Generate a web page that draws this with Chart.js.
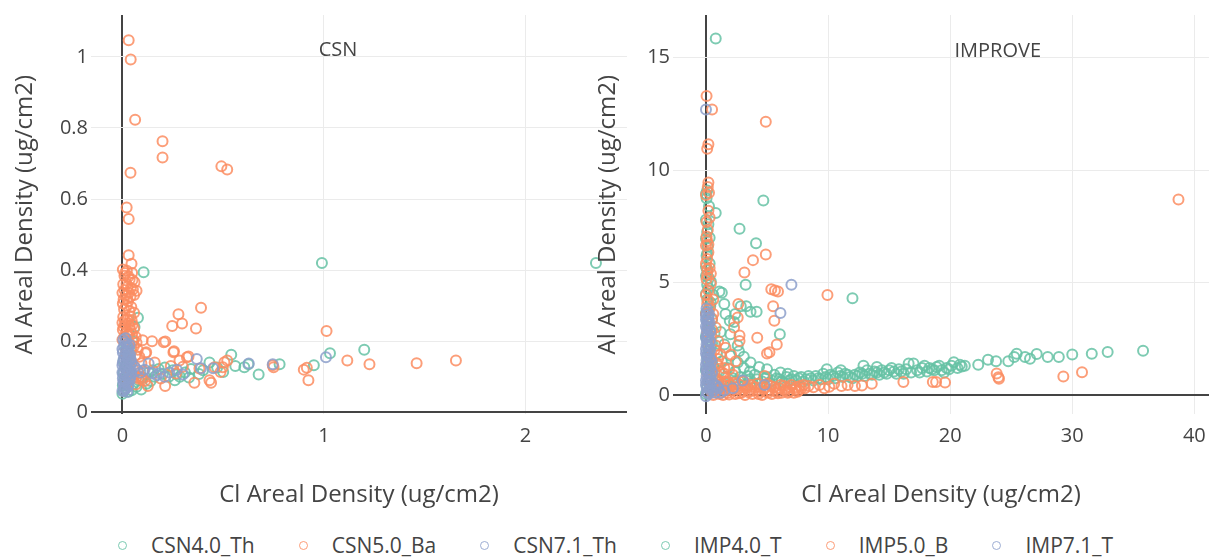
<!DOCTYPE html>
<html>
<head>
<meta charset="utf-8">
<script src="https://cdn.jsdelivr.net/npm/chart.js@4.4.1/dist/chart.umd.min.js"></script>
<style>
  html, body { margin: 0; padding: 0; background: #fff; }
  #wrap { position: relative; width: 1211px; height: 560px; overflow: hidden; font-family: "Open Sans", sans-serif; }
  #csnChart { position: absolute; left: 0; top: 0; }
  #impChart { position: absolute; left: 580px; top: 0; }
  #legend { position: absolute; left: 118px; top: 530px; height: 30px; display: flex; align-items: center; font-size: 21px; color: #444; }
  .item { display: flex; align-items: center; margin-right: 44px; }
  .dot { width: 9px; height: 9px; border-radius: 50%; border: 1.6px solid; box-sizing: border-box; margin-right: 24px; }
</style>
</head>
<body>
<div id="wrap">
  <canvas id="csnChart" width="640" height="520"></canvas>
  <canvas id="impChart" width="650" height="520"></canvas>
  <div id="legend"></div>
</div>
<script>
// [Cl, Al] areal density pairs (ug/cm2) per analysis version
var csn40Th = [
  [0.000,0.052],[0.006,0.060],[0.012,0.068],[0.002,0.076],[0.018,0.084],[0.008,0.092],[0.024,0.100],[0.004,0.110],
  [0.030,0.118],[0.014,0.128],[0.036,0.136],[0.006,0.146],[0.026,0.156],[0.042,0.170],[0.018,0.184],[0.050,0.200],
  [0.034,0.222],[0.060,0.240],[0.077,0.266],[0.105,0.394],[0.093,0.064],[0.070,0.072],[0.120,0.080],[0.140,0.088],
  [0.160,0.100],[0.180,0.122],[0.200,0.108],[0.230,0.100],[0.250,0.118],[0.285,0.100],[0.310,0.112],[0.340,0.122],
  [0.380,0.108],[0.432,0.140],[0.470,0.126],[0.500,0.113],[0.540,0.162],[0.560,0.130],[0.605,0.127],[0.625,0.135],
  [0.676,0.106],[0.780,0.135],[0.950,0.132],[1.030,0.166],[1.200,0.176],[0.990,0.420],[2.350,0.420],
  [0.046,0.062],[0.030,0.058],[0.056,0.080],[0.080,0.090],[0.100,0.098],[0.130,0.112],[0.150,0.118],[0.210,0.126],
  [0.270,0.106],[0.330,0.098],[0.400,0.118],[0.260,0.090]
];
var csn50Ba = [
  [0.031,1.047],[0.041,0.993],[0.063,0.823],[0.040,0.674],[0.021,0.576],[0.031,0.544],[0.031,0.442],[0.045,0.418],
  [0.002,0.402],[0.022,0.398],[0.048,0.392],[0.010,0.384],[0.036,0.374],[0.060,0.366],[0.004,0.360],[0.026,0.354],
  [0.052,0.346],[0.070,0.342],[0.000,0.336],[0.016,0.330],[0.040,0.326],[0.006,0.318],[0.028,0.312],[0.002,0.306],
  [0.020,0.300],[0.044,0.296],[0.034,0.286],[0.058,0.280],[0.004,0.268],[0.024,0.262],[0.046,0.258],[0.000,0.252],
  [0.014,0.246],[0.036,0.242],[0.058,0.236],[0.002,0.232],[0.022,0.226],[0.048,0.220],[0.010,0.214],[0.066,0.212],
  [0.000,0.204],[0.032,0.196],[0.056,0.186],[0.076,0.176],[0.018,0.166],[0.084,0.156],[0.042,0.146],[0.094,0.138],
  [0.062,0.126],[0.104,0.116],[0.050,0.104],[0.082,0.094],[0.030,0.086],[0.112,0.088],[0.066,0.078],[0.126,0.074],
  [0.012,0.392],[0.030,0.382],[0.050,0.372],[0.020,0.362],[0.042,0.350],[0.010,0.344],[0.032,0.336],[0.058,0.330],
  [0.024,0.320],[0.008,0.290],[0.040,0.270],[0.012,0.258],[0.030,0.250],[0.050,0.246],[0.006,0.240],[0.040,0.230],
  [0.028,0.216],[0.054,0.204],[0.070,0.196],[0.044,0.180],[0.064,0.160],[0.036,0.120],[0.080,0.110],[0.090,0.100],
  [0.100,0.092],[0.072,0.100],
  [0.100,0.203],[0.147,0.200],[0.213,0.199],[0.205,0.197],[0.118,0.169],[0.114,0.166],[0.256,0.172],[0.253,0.169],
  [0.320,0.155],[0.328,0.157],[0.199,0.763],[0.199,0.717],[0.491,0.692],[0.520,0.683],[0.390,0.294],[0.278,0.276],
  [0.296,0.250],[0.247,0.243],[0.365,0.236],[0.357,0.083],[0.432,0.090],[0.440,0.083],[0.212,0.074],[0.520,0.146],
  [0.498,0.127],[0.457,0.127],[0.487,0.113],[0.506,0.141],[0.283,0.146],[0.266,0.109],[0.382,0.123],[0.300,0.128],
  [0.160,0.140],[0.190,0.095],[0.240,0.130],[0.746,0.132],[0.750,0.127],[0.915,0.125],[0.900,0.120],[0.923,0.090],
  [1.013,0.229],[1.116,0.146],[1.226,0.135],[1.460,0.138],[1.655,0.146]
];
var csn71Th = [
  [0.000,0.060],[0.014,0.066],[0.028,0.072],[0.006,0.078],[0.020,0.084],[0.036,0.090],[0.002,0.096],[0.016,0.102],
  [0.032,0.108],[0.008,0.114],[0.024,0.120],[0.040,0.126],[0.000,0.132],[0.018,0.138],[0.034,0.144],[0.006,0.150],
  [0.022,0.156],[0.038,0.162],[0.002,0.168],[0.016,0.174],[0.030,0.180],[0.008,0.186],[0.022,0.192],[0.012,0.198],
  [0.004,0.204],[0.026,0.168],[0.044,0.110],[0.046,0.140],[0.010,0.070],[0.030,0.096],[0.012,0.130],[0.028,0.150],
  [0.010,0.062],[0.024,0.058],[0.004,0.084],[0.030,0.078],[0.012,0.090],[0.040,0.100],[0.020,0.106],[0.000,0.112],
  [0.034,0.118],[0.014,0.122],[0.002,0.140],[0.026,0.134],[0.040,0.150],[0.012,0.158],[0.030,0.164],[0.000,0.178],
  [0.024,0.184],[0.036,0.190],[0.016,0.208],
  [0.060,0.128],[0.075,0.118],[0.090,0.112],[0.110,0.120],[0.130,0.137],[0.150,0.110],[0.170,0.104],[0.184,0.110],
  [0.210,0.100],[0.233,0.112],[0.270,0.120],[0.300,0.106],[0.369,0.150],[0.390,0.124],[0.450,0.124],[0.627,0.137],
  [0.746,0.135],[1.010,0.155]
];
var imp40T = [
  [0.8,15.85],[4.7,8.65],[0.8,8.1],[2.75,7.4],[4.1,6.75],[3.25,4.9],[1.1,4.6],[1.3,4.55],[1.5,4.05],[3.3,3.95],
  [4.15,3.7],[1.95,3.3],[6.05,2.7],[12.0,4.3],[2.4,3.6],[2.85,3.95],[3.65,3.7],[2.3,3.25],[2.0,2.7],[1.5,2.25],
  [2.7,1.95],[2.0,1.75],[3.65,1.45],[4.35,1.25],[5.0,1.15],[6.1,1.0],[6.7,0.95],[9.9,1.15],[11.05,1.1],[12.9,1.3],
  [14.0,1.25],
  [0.1,9.1],[0.0,8.95],[0.05,8.75],[0.2,7.6],[0.1,7.25],[0.0,6.95],[0.15,6.6],[0.05,6.2],[0.3,5.85],[0.1,5.55],
  [0.0,5.3],[0.4,5.05],[0.2,4.75],[0.6,4.45],[0.1,4.25],[0.35,3.95],[0.0,3.65],[0.5,3.35],[0.2,3.05],[0.7,2.75],
  [0.1,2.45],[0.4,2.15],[0.9,1.85],[0.2,1.55],[0.6,1.25],[1.1,1.05],[0.3,0.85],[0.8,0.65],[1.4,0.5],[0.1,0.35],
  [0.5,0.2],[0.0,0.05],
  [0.25,8.4],[0.0,7.8],[0.3,7.0],[0.1,6.3],[0.0,5.7],[0.25,5.2],[0.1,4.9],[0.0,4.5],[0.4,4.1],[0.2,3.8],
  [0.1,3.3],[0.3,2.9],[0.0,2.6],[0.5,2.3],[0.2,2.0],[0.1,1.7],[0.4,1.4],[0.0,1.1],[0.7,0.95],[0.2,0.6],
  [0.6,0.4],[1.8,1.2],[2.4,1.05],[3.1,1.2],[1.3,1.5],[2.6,1.45],[3.1,1.7],[1.6,3.6],[1.2,2.8],[2.6,2.2],
  [3.6,1.05],
  [1.8,0.55],[2.2,0.75],[2.6,0.5],[3.0,0.65],[3.4,0.85],[3.8,0.55],[4.2,0.7],[4.6,0.6],[5.0,0.8],[5.4,0.65],
  [5.8,0.75],[6.2,0.6],[6.6,0.8],[7.0,0.7],[7.4,0.65],[7.8,0.8],[8.2,0.7],[8.6,0.75],[9.0,0.85],[9.4,0.7],
  [9.8,0.8],[10.2,0.9],[10.6,0.75],[11.0,0.85],[11.4,0.95],[11.8,0.8],[12.2,0.9],[12.6,1.0],[13.0,0.85],[13.4,0.95],
  [13.8,1.05],[14.2,0.9],[14.6,1.0],[15.0,1.1],[15.2,1.2],[15.6,0.95],[16.0,1.05],[16.4,1.15],[16.6,1.4],[17.0,1.4],
  [16.8,1.0],[17.3,1.1],[17.7,1.2],[18.1,1.05],[18.5,1.15],[18.9,1.25],[19.3,1.1],[19.7,1.2],[20.1,1.3],[20.3,1.46],
  [20.6,1.2],[20.95,1.27],
  [1.2,0.35],[1.6,0.8],[2.0,0.4],[2.4,0.6],[2.8,0.8],[3.2,0.45],[3.6,0.7],[4.0,0.9],[4.4,0.5],[4.8,0.75],
  [5.2,0.55],[5.6,0.9],[6.0,0.7],[6.4,0.55],[6.8,0.65],[7.2,0.85],[7.6,0.75],[8.0,0.6],[8.4,0.85],[8.8,0.65],
  [9.2,0.75],[9.6,0.95],[10.0,0.7],[10.4,0.85],[10.8,1.0],[11.2,0.8],[11.6,0.9],[12.0,0.75],[12.4,0.85],[12.8,0.95],
  [13.2,1.1],[13.6,0.9],[14.0,1.0],[14.4,1.1],[14.8,0.95],[15.4,1.05],[15.8,1.15],[16.2,0.95],[17.5,1.0],[17.9,1.3],
  [18.3,1.2],[18.7,1.1],[19.1,1.3],[19.5,1.0],[19.9,1.15],[20.8,1.35],[21.2,1.3],
  [22.3,1.35],[23.1,1.57],[23.76,1.5],[24.76,1.5],[25.25,1.69],[25.45,1.84],[26.13,1.69],[26.54,1.61],[27.09,1.83],
  [27.99,1.69],[28.9,1.69],[30.0,1.8],[31.6,1.84],[32.9,1.91],[35.8,1.97]
];
var imp50B = [
  [0.05,13.3],[0.5,12.7],[0.2,11.15],[0.1,10.95],[0.2,9.45],[0.15,9.25],[0.0,8.9],[0.2,8.2],[0.15,7.35],[0.05,7.05],
  [0.1,6.85],[0.0,6.65],[0.2,6.35],[0.1,6.05],[0.0,5.85],[0.3,5.65],[0.1,5.35],[0.05,5.15],[0.4,4.95],[0.2,4.65],
  [0.0,4.45],[0.6,4.25],[0.1,4.05],[0.3,3.85],[0.0,3.6],[0.5,3.4],[0.2,3.2],[0.8,3.0],[0.1,2.8],[0.4,2.6],
  [1.0,2.4],[0.2,2.2],[0.7,2.0],[1.2,1.8],[0.3,1.6],[0.9,1.4],[1.5,1.2],[0.1,1.0],[0.6,0.85],[1.8,0.6],
  [2.2,0.9],[1.0,1.6],[1.6,2.1],[0.5,2.9],
  [0.2,0.6],[0.4,0.8],[0.9,0.7],[1.3,1.0],[0.5,1.2],[1.0,1.3],[0.4,1.7],[0.8,2.2],[0.3,2.4],[0.6,3.6],
  [0.2,4.2],[0.4,5.4],[0.1,5.6],[0.2,6.7],[0.05,7.7],[0.3,7.9],[0.25,9.0],
  [38.7,8.7],[4.9,12.15],[4.9,6.25],[3.85,6.0],[3.15,5.45],[5.35,4.7],[5.65,4.65],[5.9,4.6],[9.95,4.45],[2.65,4.05],
  [5.5,3.95],[5.6,3.3],[2.6,3.45],[2.3,3.0],[2.75,2.65],[4.2,2.55],[5.8,2.25],[5.2,1.9],[5.0,1.85],[2.75,2.4],
  [2.05,1.8],[2.45,1.5],[1.9,1.15],[4.8,0.85],[1.5,0.95],[1.25,0.5],
  [0.5,0.1],[0.9,0.3],[1.3,0.15],[1.7,0.4],[2.1,0.2],[2.5,0.35],[2.9,0.1],[3.3,0.3],[3.7,0.45],[4.1,0.2],
  [4.5,0.35],[4.9,0.15],[5.3,0.4],[5.7,0.25],[6.1,0.45],[6.5,0.2],[6.9,0.35],[7.3,0.25],[7.7,0.4],[8.1,0.3],
  [0.7,0.5],[1.5,0.6],[2.3,0.55],[3.1,0.6],[1.1,0.05],[1.9,0.02],[2.7,0.08],[3.5,0.12],[4.3,0.05],[5.1,0.1],
  [5.9,0.08],[6.7,0.1],[7.5,0.15],[8.4,0.4],[8.8,0.35],[9.3,0.45],[9.7,0.3],[10.1,0.37],[10.5,0.5],[11.1,0.4],
  [0.3,0.3],[0.6,0.0],[0.8,0.2],[1.0,0.45],[1.2,0.3],[1.4,0.0],[1.6,0.2],[1.8,0.1],[2.0,0.45],[2.4,0.05],
  [2.6,0.25],[2.8,0.45],[3.0,0.2],[3.2,0.0],[3.4,0.4],[3.6,0.2],[3.8,0.05],[4.0,0.35],[4.2,0.5],[4.4,0.15],
  [4.6,0.0],[4.8,0.3],[5.0,0.5],[5.2,0.2],[5.4,0.05],[5.6,0.35],[5.8,0.15],[6.0,0.3],[6.2,0.1],[6.4,0.4],
  [6.6,0.3],[6.8,0.15],[7.0,0.45],[7.2,0.1],[7.4,0.35],[7.6,0.2],[7.8,0.3],[8.0,0.45],
  [11.6,0.45],[12.2,0.4],[12.77,0.43],[13.58,0.5],[16.17,0.58],[18.58,0.58],[18.85,0.58],[19.58,0.56],
  [23.81,0.96],[23.95,0.79],[24.0,0.73],[29.27,0.83],[30.8,1.01]
];
var imp71T = [
  [0.0,-0.05],[0.2,0.05],[0.05,0.15],[0.3,0.25],[0.1,0.35],[0.0,0.45],[0.25,0.55],[0.0,0.65],[0.2,0.75],[0.05,0.85],
  [0.3,0.95],[0.1,1.05],[0.0,1.15],[0.25,1.25],[0.0,1.35],[0.2,1.45],[0.05,1.55],[0.3,1.65],[0.1,1.75],[0.0,1.85],
  [0.25,1.95],[0.0,2.05],[0.2,2.15],[0.05,2.25],[0.3,2.35],[0.1,2.45],[0.0,2.55],[0.2,2.65],[0.05,2.75],[0.3,2.85],
  [0.1,2.95],[0.0,3.05],[0.2,3.15],[0.1,3.25],[0.0,3.35],[0.2,3.45],[0.0,3.55],[0.1,3.7],[0.05,3.85],[0.6,0.2],
  [0.8,0.1],[1.0,0.3],[0.7,0.45],
  [0.15,0.1],[0.35,0.4],[0.15,0.6],[0.35,0.8],[0.15,1.0],[0.35,1.2],[0.15,1.4],[0.35,1.6],[0.15,1.8],[0.35,2.0],
  [0.15,2.2],[0.35,2.4],[0.15,2.6],[0.35,2.8],[0.15,3.0],[0.3,3.2],[0.15,3.4],[0.25,3.6],[0.5,0.6],[0.5,1.0],
  [0.45,1.5],[1.2,0.1],[0.9,0.4],
  [0.0,12.7],[7.0,4.9],[6.1,3.65],[2.2,0.3],[4.8,0.45],[3.0,0.65],[1.5,0.2]
];

var seriesNames = ['CSN4.0_Th', 'CSN5.0_Ba', 'CSN7.1_Th', 'IMP4.0_T', 'IMP5.0_B', 'IMP7.1_T'];
var seriesColors = ['rgba(102,194,165,0.85)', 'rgba(252,141,98,0.85)', 'rgba(141,160,203,0.85)',
                    'rgba(102,194,165,0.85)', 'rgba(252,141,98,0.85)', 'rgba(141,160,203,0.85)'];
var xTitle = 'Cl Areal Density (ug/cm2)';
var yTitle = 'Al Areal Density (ug/cm2)';

Chart.defaults.font.family = '"Open Sans", sans-serif';
Chart.defaults.color = '#444';

// writes the panel name inside the plot area at a data position
var panelLabel = {
  id: 'panelLabel',
  afterDatasetsDraw: function(chart, args, opts) {
    var ctx = chart.ctx;
    ctx.save();
    ctx.font = '20px "Open Sans"';
    ctx.fillStyle = '#444';
    ctx.textAlign = 'center';
    ctx.textBaseline = 'middle';
    ctx.fillText(opts.text, chart.scales.x.getPixelForValue(opts.x), chart.scales.y.getPixelForValue(opts.y));
    ctx.restore();
  }
};

function scatterSet(i, points, order) {
  return {
    label: seriesNames[i],
    data: points.map(p => ({ x: p[0], y: p[1] })),
    borderColor: seriesColors[i],
    backgroundColor: 'rgba(0,0,0,0)',
    pointRadius: 5,
    pointHoverRadius: 5,
    pointBorderWidth: 2,
    order: order
  };
}

function gridStyle() {
  return {
    color: c => (c.tick && c.tick.value === 0) ? '#444' : '#ebebeb',
    lineWidth: c => (c.tick && c.tick.value === 0) ? 2 : 1,
    drawTicks: false
  };
}

// plain tick text: 0, 0.2, ... 1
function tickText(v) {
  return String(Number(v.toFixed(2)));
}

function makeChart(id, datasets, cfg) {
  return new Chart(document.getElementById(id), {
    type: 'scatter',
    data: { datasets: datasets },
    plugins: [panelLabel],
    options: {
      responsive: false,
      animation: false,
      layout: { padding: cfg.padding },
      plugins: {
        legend: { display: false },
        tooltip: { enabled: false },
        panelLabel: cfg.label
      },
      scales: {
        x: {
          type: 'linear',
          min: cfg.xMin, max: cfg.xMax,
          grid: gridStyle(),
          border: { display: false },
          ticks: { stepSize: cfg.xStep, includeBounds: false, padding: 10, font: { size: 20 }, callback: tickText },
          title: { display: true, text: xTitle, font: { size: 24 }, padding: 0 },
          afterFit: s => { s.height = 95; }
        },
        y: {
          type: 'linear',
          min: cfg.yMin, max: cfg.yMax,
          grid: gridStyle(),
          border: { display: false },
          ticks: { stepSize: cfg.yStep, includeBounds: false, padding: 3, font: { size: 20 }, callback: tickText },
          title: { display: true, text: yTitle, font: { size: 24 }, padding: 0 },
          afterFit: s => { s.width = cfg.yWidth; }
        }
      }
    }
  });
}

makeChart('csnChart', [
  scatterSet(0, csn40Th, 3),
  scatterSet(1, csn50Ba, 2),
  scatterSet(2, csn71Th, 1)
], {
  xMin: -0.156, xMax: 2.504, xStep: 1,
  yMin: -0.006, yMax: 1.118, yStep: 0.2,
  padding: { left: 10.6, right: 13, top: 10, bottom: 10.6 },
  yWidth: 80.4,
  label: { text: 'CSN', x: 1.07, y: 1.018 }
});

makeChart('impChart', [
  scatterSet(3, imp40T, 3),
  scatterSet(4, imp50B, 2),
  scatterSet(5, imp71T, 1)
], {
  xMin: -2.7, xMax: 41.2, xStep: 10,
  yMin: -0.86, yMax: 16.9, yStep: 5,
  padding: { left: 13.6, right: 21, top: 10, bottom: 10.6 },
  yWidth: 79.4,
  label: { text: 'IMPROVE', x: 23.9, y: 15.3 }
});

// legend row shared by both panels
var legend = document.getElementById('legend');
seriesNames.forEach(function(name, i) {
  var item = document.createElement('div');
  item.className = 'item';
  var dot = document.createElement('span');
  dot.className = 'dot';
  dot.style.borderColor = seriesColors[i];
  var text = document.createElement('span');
  text.textContent = name;
  item.appendChild(dot);
  item.appendChild(text);
  legend.appendChild(item);
});
</script>
</body>
</html>
